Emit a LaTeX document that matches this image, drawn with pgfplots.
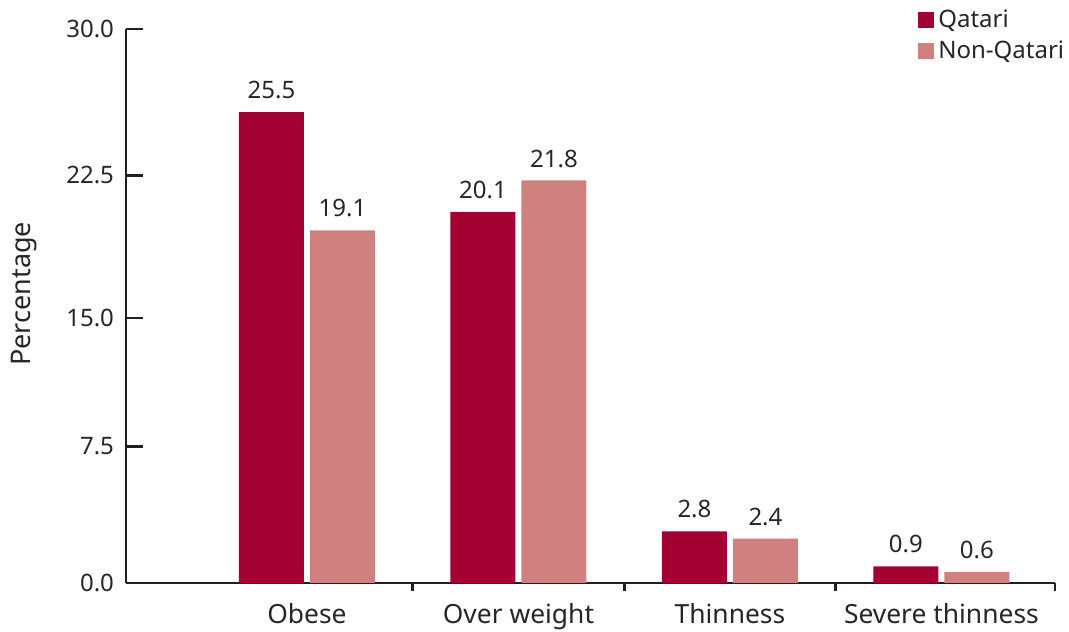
\documentclass[border=0pt]{standalone}
\usepackage{pgfplots}
\pgfplotsset{compat=1.18}
\usepackage{fontspec}
\setmainfont{Noto Sans}
\definecolor{qat}{HTML}{A30034}
\definecolor{nqat}{HTML}{CF807F}
\definecolor{txt}{HTML}{262626}
\definecolor{axl}{HTML}{231F20}
\begin{document}
\begin{tikzpicture}
\begin{axis}[
  name=ax,
  scale only axis,
  width=464.5pt, height=277pt,
  xmin=0.1442, xmax=4.537,
  ymin=0, ymax=30,
  axis x line*=bottom, axis y line*=left,
  axis line style={axl, line width=1.4pt},
  tick align=inside,
  tick style={axl, line width=1.4pt},
  major tick length=8.5pt,
  minor tick length=4pt,
  ytick={0,7.40,14.35,22.07,30},
  yticklabels={0.0,7.5,15.0,22.5,30.0},
  xtick={1,2,3,4},
  xticklabels={Obese,Over weight,Thinness,Severe thinness},
  major x tick style={draw=none},
  minor xtick={1.5,2.5,3.5,4.537},
  yticklabel style={font=\fontsize{12}{14}\selectfont, text=txt, xshift=-2.5pt},
  xticklabel style={font=\fontsize{13.2}{15}\selectfont, text=txt, anchor=north,
    text height=9.5pt, text depth=0pt, inner sep=0pt, yshift=-2.3pt},
  ylabel={Percentage},
  ylabel style={at={(axis description cs:-0.110,0.522)}, anchor=center,
    text height=9.5pt, text depth=2.5pt, font=\fontsize{13.5}{15}\selectfont, text=txt},
  ybar=3pt, bar width=32.5pt,
  /pgf/number format/.cd, fixed, precision=1, fixed zerofill, assume math mode=true,
  /pgfplots/.cd,
  nodes near coords,
  every node near coord/.append style={font=\fontsize{12}{14}\selectfont, text=txt, yshift=3pt},
  legend cell align=left,
  legend style={draw=none, fill=none, at={(axis description cs:0.8525,1.042)}, anchor=north west,
    font=\fontsize{12}{14}\selectfont, text=txt, inner sep=0pt, row sep=1pt},
  legend image code/.code={\fill[#1] (0pt,-4pt) rectangle (8pt,4pt);},
]
\addplot[fill=qat, draw=none]
  coordinates {(1,25.5) (2,20.1) (3,2.8) (4,0.9)};
\addplot[fill=nqat, draw=none]
  coordinates {(1,19.1) (2,21.8) (3,2.4) (4,0.6)};
\legend{Qatari,Non-Qatari}
\end{axis}
\pgfresetboundingbox
\path[use as bounding box] ([xshift=-63pt,yshift=-24pt]ax.south west) rectangle ([xshift=7pt,yshift=14.5pt]ax.north east);
\end{tikzpicture}
\end{document}
